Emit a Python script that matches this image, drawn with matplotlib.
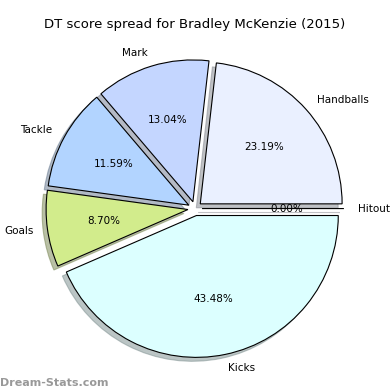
import matplotlib
matplotlib.use('Agg')
import matplotlib.pyplot as plt

# DT points per stat category
categorias = ['Hitout', 'Handballs', 'Mark', 'Tackle', 'Goals', 'Kicks']
pontos = [0, 16, 9, 8, 6, 30]
cores = ['#f0f0ff', '#eaf0ff', '#c4d6ff', '#b2d4ff', '#d2ec8c', '#dcffff']

fig = plt.figure(figsize=(3.9, 3.9), dpi=100)
ax = fig.add_axes([0.08, 0.02, 0.84, 0.89])

wedges, textos, pct = ax.pie(pontos, labels=categorias, colors=cores, autopct='%1.2f%%',
                             startangle=0, explode=[0.05] * len(pontos),
                             shadow={'ox': -0.02, 'oy': -0.02, 'shade': 0.45},
                             wedgeprops={'edgecolor': 'black', 'linewidth': 0.8},
                             textprops={'fontsize': 7.5})
ax.axis('equal')

fig.suptitle('DT score spread for Bradley McKenzie (2015)', fontsize=9.5, y=0.955)
fig.text(0.0, 0.01, 'Dream-Stats.com', fontsize=8, color='#999999', fontweight='bold')

plt.savefig('out.png', dpi=100)
